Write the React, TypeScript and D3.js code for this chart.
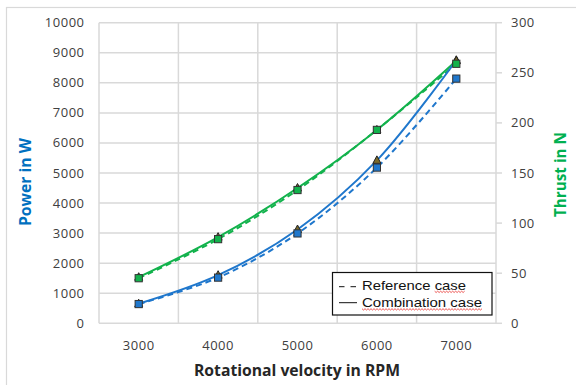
import React, { useRef, useEffect } from 'react';
import * as d3 from 'd3';

const rpm = [3000, 4000, 5000, 6000, 7000];
const powerRef = [640, 1520, 2990, 5180, 8140];
const powerComb = [650, 1600, 3120, 5420, 8750];
const thrustRef = [45, 84, 133, 193, 259];
const thrustComb = [46, 86, 135, 193, 262];

const xTicks = [3000, 4000, 5000, 6000, 7000];
const xGrid = [2500, 3500, 4500, 5500, 6500, 7500];
const powerTicks = d3.range(0, 10001, 1000);
const thrustTicks = d3.range(0, 301, 50);
const legendLabels = ['Reference case', 'Combination case'];

const BLUE = '#1f77cc';
const GREEN = '#12b24c';
const GRID = '#d9d9d9';

const App: React.FC = () => {
    const legendRef = useRef<SVGGElement | null>(null);

    const margin = { top: 22.7, right: 80, bottom: 61.7, left: 99 };
    const W = 576;
    const H = 385;

    const x = d3.scaleLinear().domain([2500, 7500]).range([margin.left, W - margin.right]);
    const yL = d3.scaleLinear().domain([0, 10000]).range([H - margin.bottom, margin.top]);
    const yR = d3.scaleLinear().domain([0, 300]).range([H - margin.bottom, margin.top]);

    const curve = d3.curveCatmullRom.alpha(0.5);
    const lineL = d3.line<number>().x((_, i) => x(rpm[i])).y(d => yL(d)).curve(curve);
    const lineR = d3.line<number>().x((_, i) => x(rpm[i])).y(d => yR(d)).curve(curve);

    // red spell-check squiggles under the legend words
    useEffect(() => {
        const g = d3.select(legendRef.current);
        g.selectAll('path.squig').remove();
        g.selectAll<SVGTextElement, unknown>('text').each(function (_, i) {
            const t = this as SVGTextElement;
            const full = t.getAttribute('data-label') || '';
            const start = i === 0 ? full.indexOf('case') : 0;
            const bb = t.getBBox();
            const total = t.getComputedTextLength();
            const scale = bb.width / total || 1;
            const x0 = bb.x + (start > 0 ? t.getSubStringLength(0, start) * scale : 0);
            const x1 = bb.x + bb.width;
            const yb = bb.y + bb.height - 1;
            const pts: [number, number][] = [];
            for (let px = x0, k = 0; px <= x1; px += 1.5, k++) pts.push([px, yb + (k % 2 ? 1 : -0.3)]);
            g.append('path')
                .attr('class', 'squig')
                .attr('d', d3.line()(pts) || '')
                .attr('fill', 'none')
                .attr('stroke', '#e8302c')
                .attr('stroke-width', 0.8);
        });
    }, []);

    const square = (cx: number, cy: number, fill: string, key: string) => (
        <rect key={key} x={cx - 3.6} y={cy - 3.6} width={7.2} height={7.2} fill={fill} stroke="#333" strokeWidth={1} />
    );
    const tri = (cx: number, cy: number, key: string) => (
        <path key={key} d={`M${cx},${cy - 4.5}L${cx + 4},${cy + 3}L${cx - 4},${cy + 3}Z`} fill="#7a6a2a" stroke="#222" strokeWidth={1} />
    );

    const tickFont = { fontFamily: 'Open Sans', fontSize: 13, letterSpacing: 0.5, fill: '#404040' };

    return (
        <svg width={W} height={H} style={{ position: 'absolute', left: 0, top: 0, background: '#fff' }}>
            <rect x={6.5} y={7.5} width={W} height={H} fill="#fff" stroke={GRID} strokeWidth={1.2} />

            {/* grid */}
            {powerTicks.map(t => (
                <line key={'h' + t} x1={x(2500)} x2={x(7500)} y1={yL(t)} y2={yL(t)} stroke={GRID} strokeWidth={1.5} />
            ))}
            {xGrid.map(t => (
                <line key={'v' + t} x1={x(t)} x2={x(t)} y1={yL(0)} y2={yL(10000)} stroke={GRID} strokeWidth={1.5} />
            ))}
            {thrustTicks.map(t => (
                <line key={'rt' + t} x1={x(7500)} x2={x(7500) + 6} y1={yR(t)} y2={yR(t)} stroke={GRID} strokeWidth={1.5} />
            ))}

            {/* tick labels */}
            {powerTicks.map(t => (
                <text key={'pl' + t} x={84.5} y={yL(t)} dy="0.35em" textAnchor="end" style={tickFont}>{t}</text>
            ))}
            {thrustTicks.map(t => (
                <text key={'tl' + t} x={511} y={yR(t)} dy="0.35em" textAnchor="start" style={tickFont}>{t}</text>
            ))}
            {xTicks.map(t => (
                <text key={'xl' + t} x={x(t)} y={350} textAnchor="middle" style={tickFont}>{t}</text>
            ))}

            {/* axis titles */}
            <text x={297} y={376} textAnchor="middle" textLength={206} lengthAdjust="spacingAndGlyphs"
                style={{ fontFamily: 'Open Sans', fontWeight: 700, fontSize: 16, fill: '#262626' }}>
                Rotational velocity in RPM
            </text>
            <text transform={`translate(31,182) rotate(-90)`} textAnchor="middle" textLength={88} lengthAdjust="spacingAndGlyphs"
                style={{ fontFamily: 'Open Sans', fontWeight: 700, fontSize: 15.7, fill: '#0070C0' }}>
                Power in W
            </text>
            <text transform={`translate(566,174.5) rotate(-90)`} textAnchor="middle" textLength={85} lengthAdjust="spacingAndGlyphs"
                style={{ fontFamily: 'Open Sans', fontWeight: 700, fontSize: 15.7, fill: '#00B050' }}>
                Thrust in N
            </text>

            {/* lines */}
            <path d={lineR(thrustRef) || ''} fill="none" stroke={GREEN} strokeWidth={2} strokeDasharray="6,4" />
            <path d={lineR(thrustComb) || ''} fill="none" stroke={GREEN} strokeWidth={2} />
            <path d={lineL(powerRef) || ''} fill="none" stroke={BLUE} strokeWidth={2} strokeDasharray="6,4" />
            <path d={lineL(powerComb) || ''} fill="none" stroke={BLUE} strokeWidth={2} />

            {/* markers */}
            {powerComb.map((v, i) => tri(x(rpm[i]), yL(v), 'pt' + i))}
            {thrustComb.map((v, i) => tri(x(rpm[i]), yR(v), 'tt' + i))}
            {powerRef.map((v, i) => square(x(rpm[i]), yL(v), BLUE, 'ps' + i))}
            {thrustRef.map((v, i) => square(x(rpm[i]), yR(v), GREEN, 'ts' + i))}

            {/* legend */}
            <g ref={legendRef}>
                <rect x={332.5} y={272.5} width={159.5} height={42.5} fill="#fff" stroke="#111" strokeWidth={1.2} />
                <line x1={339} x2={357} y1={286.7} y2={286.7} stroke="#111" strokeWidth={1} strokeDasharray="5.5,6" />
                <line x1={339} x2={357} y1={302.7} y2={302.7} stroke="#111" strokeWidth={1} />
                <text x={362} y={289.5} data-label={legendLabels[0]} textLength={104} lengthAdjust="spacingAndGlyphs"
                    style={{ fontFamily: 'Liberation Sans', fontSize: 13, fill: '#111' }}>
                    {legendLabels[0]}
                </text>
                <text x={362} y={307} data-label={legendLabels[1]} textLength={120} lengthAdjust="spacingAndGlyphs"
                    style={{ fontFamily: 'Liberation Sans', fontSize: 13, fill: '#111' }}>
                    {legendLabels[1]}
                </text>
            </g>
        </svg>
    );
};

export default App;
